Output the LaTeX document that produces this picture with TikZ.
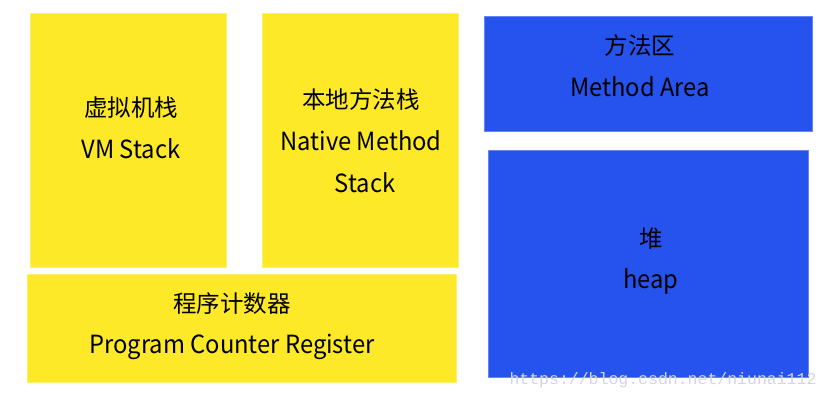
\documentclass[tikz,border=0pt]{standalone}
\usepackage{fontspec}
\setmainfont{Noto Sans CJK SC}
\newfontfamily\latfont[FakeStretch=0.95]{Noto Sans CJK SC}
\newfontfamily\wmfont{Liberation Mono}
\definecolor{memyellow}{RGB}{253,233,39}
\definecolor{memblue}{RGB}{38,82,238}
\definecolor{wmgray}{RGB}{215,215,215}
\tikzset{
  area/.style={fill=#1, draw=#1!70!white, line width=0.8pt, inner sep=0pt},
  cjk/.style={font=\fontsize{23.5}{26}\selectfont, inner sep=0pt, anchor=center},
  lat/.style={font=\latfont\fontsize{25}{28}\selectfont, inner sep=0pt, anchor=center},
}
\begin{document}
\begin{tikzpicture}[x=1pt,y=-1pt]
\useasboundingbox (0,0) rectangle (830,400);
\fill[white] (0,0) rectangle (830,400);
% boxes
\node[area=memyellow, minimum width=196, minimum height=254] (vm) at (128,140) {};
\node[area=memyellow, minimum width=196, minimum height=254] (nm) at (360,140) {};
\node[area=memyellow, minimum width=429, minimum height=108] (pc) at (241.5,328) {};
\node[area=memblue, minimum width=328, minimum height=115] (ma) at (648,73.5) {};
\node[area=memblue, minimum width=320, minimum height=227] (hp) at (648,263.5) {};
% texts
\node[cjk] (vm1) at (131,108) {虚拟机栈};
\node[lat] (vm2) at (131,149) {VM Stack};
\node[cjk] (nm1) at (361,100) {本地方法栈};
\node[lat] (nm2) at (361,141) {Native Method};
\node[lat] (nm3) at (365,183) {Stack};
\node[cjk] (pc1) at (232,304) {程序计数器};
\node[lat] (pc2) at (232,347) {Program Counter Register};
\node[cjk] (ma1) at (640,46) {方法区};
\node[lat] (ma2) at (640,87) {Method Area};
\node[cjk] (hp1) at (651,239) {堆};
\node[lat] (hp2) at (651,281) {heap};
\node[font=\wmfont\fontsize{16.5}{18}\selectfont, text=wmgray, inner sep=0pt, anchor=center] (wm) at (663,380) {https://blog.csdn.net/niunai112};
\end{tikzpicture}
\end{document}
